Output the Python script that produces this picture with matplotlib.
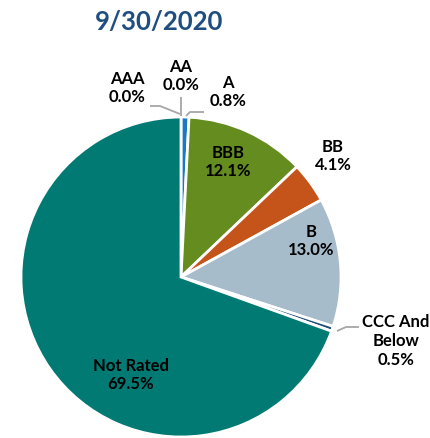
import matplotlib
matplotlib.use("Agg")
import matplotlib.pyplot as plt

plt.rcParams['font.family'] = ['Lato', 'DejaVu Sans']

title = "9/30/2020"
categories = ["AAA", "AA", "A", "BBB", "BB", "B", "CCC And\nBelow", "Not Rated"]
values = [0.0, 0.0, 0.8, 12.1, 4.1, 13.0, 0.5, 69.5]
colors = ["#1F4E79", "#2E75B6", "#1C78C4", "#648C1E", "#C5541A", "#A6BCCB", "#1F4E79", "#007A73"]
explode = [0, 0, 0, 0, 0, 0, 0, 0.012]

W, H = 431, 438
fig = plt.figure(figsize=(W / 100, H / 100), dpi=100)
ax = fig.add_axes([0, 0, 1, 1])

def Y(py):
    return H - py

cx, cy, R = 181, 277, 160
ax.pie(values, colors=colors, startangle=90, counterclock=False, explode=explode,
       center=(cx, Y(cy)), radius=R, frame=True,
       wedgeprops=dict(edgecolor='white', linewidth=2.0))
ax.set_xlim(0, W)
ax.set_ylim(0, H)
ax.set_aspect('equal')
ax.axis('off')

# label layout (pixel coordinates of label centres)
label_pos = {
    "AAA": (127, 88),
    "AA": (181, 76),
    "A": (228, 92),
    "BBB": (228, 162),
    "BB": (333, 156),
    "B": (311, 241),
    "CCC And\nBelow": (396, 341),
    "Not Rated": (131, 375),
}
for cat, v in zip(categories, values):
    px, py = label_pos[cat]
    ax.text(px, Y(py), f"{cat}\n{v:.1f}%", ha='center', va='center',
            fontsize=12, fontweight='bold', color='black', linespacing=1.2)

# leader lines
lead = '#A6A6A6'
leaders = [
    [(150, 106), (160, 106), (180, 114)],
    [(181, 97), (181, 116)],
    [(186, 116), (190, 112), (204, 112)],
    [(337, 331), (346, 327), (359, 327)],
]
for pts in leaders:
    xs = [p[0] for p in pts]
    ys = [Y(p[1]) for p in pts]
    ax.plot(xs, ys, color=lead, lw=1.3, solid_capstyle='butt')

fig.text(159 / W, 1 - 22 / H, title, ha='center', va='center',
         fontsize=18.5, fontweight='bold', color='#1F4E80')

fig.savefig("out.png", dpi=100)
